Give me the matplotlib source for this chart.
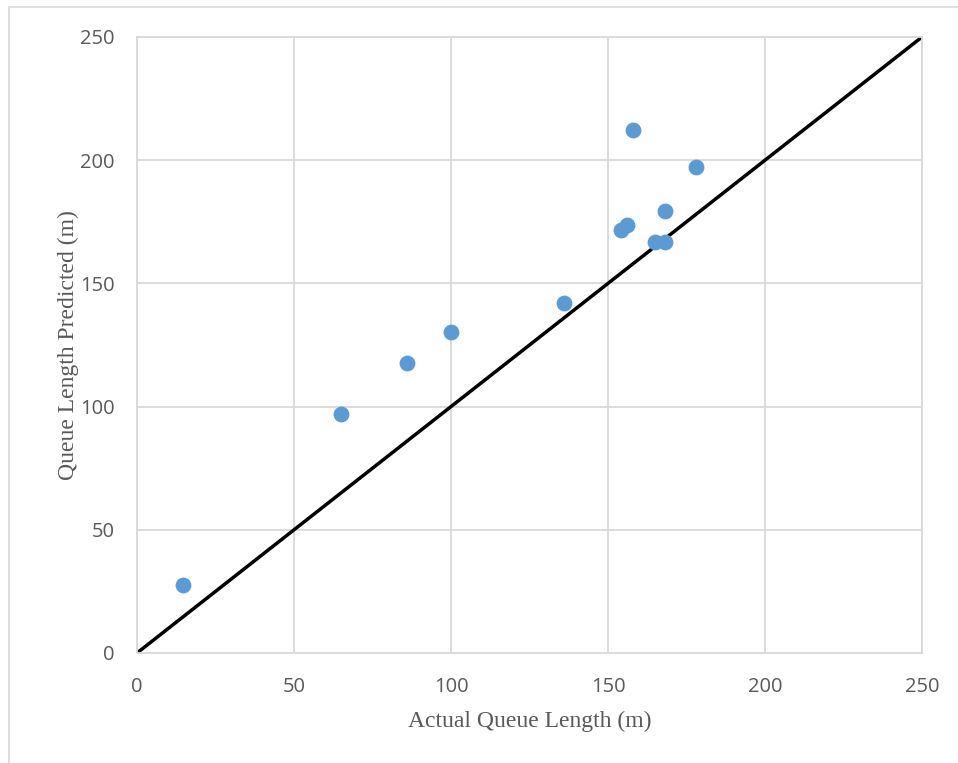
import matplotlib
matplotlib.use("Agg")
import matplotlib.pyplot as plt
from matplotlib.patches import Rectangle

actual = [14.5, 65, 86, 100, 136, 154, 156, 158, 165, 168, 168, 178]
predicted = [27.5, 97, 117.7, 130.2, 142, 171.5, 173.7, 212.3, 167, 167, 179.5, 197.2]
line_x = [0, 250]
line_y = [0, 250]
ticks = [0, 50, 100, 150, 200, 250]

W, H = 958, 763
fig = plt.figure(figsize=(W/100, H/100), dpi=100)
fig.patches.append(Rectangle((9/W, -0.1), 1.2, 1 - 7/H + 0.1, transform=fig.transFigure,
                             fill=False, edgecolor="#d9d9d9", lw=1.2, zorder=0))
ax = fig.add_axes([137/W, 1 - 653/H, (922-137)/W, (653-37)/H])
ax.set_xlim(0, 250)
ax.set_ylim(0, 250)
ax.set_xticks(ticks)
ax.set_yticks(ticks)
ax.grid(True, color="#d9d9d9", lw=1.3)
ax.set_axisbelow(True)
for s in ax.spines.values():
    s.set_color("#d9d9d9")
    s.set_linewidth(1.3)
ax.tick_params(length=0, labelsize=14.5, labelcolor="#595959")
for lab in ax.get_xticklabels() + ax.get_yticklabels():
    lab.set_family("Open Sans")
ax.tick_params(axis="x", pad=17)
ax.tick_params(axis="y", pad=16)

ax.plot(line_x, line_y, color="black", lw=2.5, zorder=2, solid_capstyle="butt")
ax.scatter(actual, predicted, s=130, color="#5b9bd5", zorder=3, linewidths=0)

ax.set_xlabel("Actual Queue Length (m)", family="Liberation Serif", fontsize=17,
              color="#595959", labelpad=10)
ax.set_ylabel("Queue Length Predicted (m)", family="Liberation Serif", fontsize=17,
              color="#595959", labelpad=1)
fig.savefig("out.png", dpi=100)
